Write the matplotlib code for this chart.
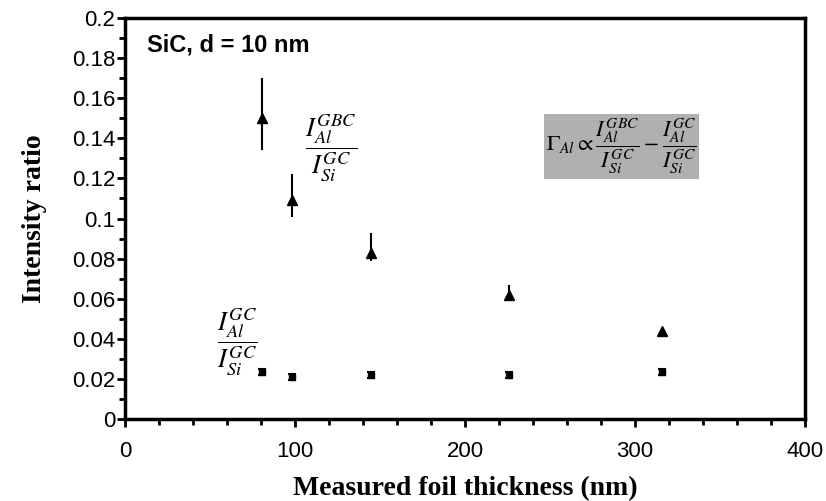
import numpy as np
import matplotlib.pyplot as plt
from matplotlib.ticker import MultipleLocator

# data
thick = [80.5, 98.5, 145, 226, 316]
gbc = [0.150, 0.109, 0.083, 0.062, 0.044]
gbc_lo = [0.016, 0.008, 0.004, 0.003, 0.001]
gbc_hi = [0.020, 0.013, 0.010, 0.005, 0.001]
gc = [0.0234, 0.021, 0.022, 0.022, 0.0234]
gc_err = [0.0015, 0.0015, 0.0015, 0.0015, 0.0015]
ylabels = ['0', '0.02', '0.04', '0.06', '0.08', '0.1', '0.12',
           '0.14', '0.16', '0.18', '0.2']

plt.rcParams['mathtext.fontset'] = 'stix'

fig = plt.figure(figsize=(8.26, 5.01), dpi=100)
ax = fig.add_axes([0.1513, 0.1637, 0.8233, 0.8003])

ax.errorbar(thick, gbc, yerr=[gbc_lo, gbc_hi], fmt='^', color='black',
            ms=7, elinewidth=1.5, capsize=0)
ax.errorbar(thick, gc, yerr=gc_err, fmt='s', color='black',
            ms=5, elinewidth=1.5, capsize=3, capthick=1.5)

ax.set_xlim(0, 400)
ax.set_ylim(0, 0.2)
ax.xaxis.set_major_locator(MultipleLocator(100))
ax.xaxis.set_minor_locator(MultipleLocator(20))
ax.yaxis.set_minor_locator(MultipleLocator(0.01))
ax.set_yticks(np.arange(0, 0.201, 0.02))
ax.set_yticklabels(ylabels)

for s in ax.spines.values():
    s.set_linewidth(2.5)
ax.tick_params(which='both', direction='out', width=2, top=False, right=False,
               labelsize=16, pad=1)
ax.tick_params(which='major', length=6)
ax.tick_params(which='minor', length=4)
for lab in ax.get_xticklabels() + ax.get_yticklabels():
    lab.set_family('Liberation Sans')
ax.tick_params(axis='x', pad=10)

ax.set_xlabel('Measured foil thickness (nm)', family='Liberation Serif',
              fontweight='bold', fontsize=20, labelpad=10)
ax.set_ylabel('Intensity ratio', family='Liberation Serif',
              fontweight='bold', fontsize=20, labelpad=18)

ax.text(13, 0.1865, 'SiC, d = 10 nm', family='Liberation Sans',
        fontweight='bold', fontsize=17, va='center')

ax.text(121, 0.135, r'$\dfrac{I_{Al}^{GBC}}{I_{Si}^{GC}}$', fontsize=19,
        ha='center', va='center')
ax.text(66, 0.038, r'$\dfrac{I_{Al}^{GC}}{I_{Si}^{GC}}$', fontsize=19,
        ha='center', va='center')
ax.text(292, 0.136,
        r'$\Gamma_{Al} \propto \dfrac{I_{Al}^{GBC}}{I_{Si}^{GC}}'
        r' - \dfrac{I_{Al}^{GC}}{I_{Si}^{GC}}$',
        fontsize=16, ha='center', va='center',
        bbox=dict(boxstyle='square,pad=0.1', fc='#b0b0b0', ec='none'))

fig.savefig('out.png', dpi=100)
